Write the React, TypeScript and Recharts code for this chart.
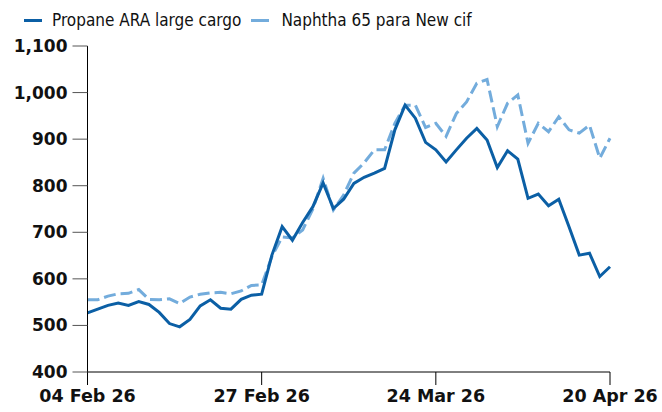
import React from 'react';
import { LineChart, Line, XAxis, YAxis, Legend } from 'recharts';

// business days, 04 Feb 26 .. 20 Apr 26
const dates = [
  '04 Feb 26', '05 Feb 26', '06 Feb 26', '09 Feb 26', '10 Feb 26', '11 Feb 26', '12 Feb 26', '13 Feb 26',
  '16 Feb 26', '17 Feb 26', '18 Feb 26', '19 Feb 26', '20 Feb 26', '23 Feb 26', '24 Feb 26', '25 Feb 26',
  '26 Feb 26', '27 Feb 26', '02 Mar 26', '03 Mar 26', '04 Mar 26', '05 Mar 26', '06 Mar 26', '09 Mar 26',
  '10 Mar 26', '11 Mar 26', '12 Mar 26', '13 Mar 26', '16 Mar 26', '17 Mar 26', '18 Mar 26', '19 Mar 26',
  '20 Mar 26', '23 Mar 26', '24 Mar 26', '25 Mar 26', '26 Mar 26', '27 Mar 26', '30 Mar 26', '31 Mar 26',
  '01 Apr 26', '02 Apr 26', '07 Apr 26', '08 Apr 26', '09 Apr 26', '10 Apr 26', '13 Apr 26', '14 Apr 26',
  '15 Apr 26', '16 Apr 26', '17 Apr 26', '20 Apr 26',
];

const propane = [
  527, 535, 543, 548, 543, 551, 545, 528, 504, 497, 513, 542, 555, 537, 535, 556,
  565, 567, 651, 712, 683, 721, 755, 806, 751, 771, 805, 818, 827, 837, 920, 973,
  945, 893, 877, 851, 877, 902, 923, 898, 839, 875, 857, 773, 782, 757, 771, 712,
  651, 655, 605, 626,
];

const naphtha = [
  555, 555, 563, 568, 569, 577, 556, 555, 557, 547, 561, 567, 570, 571, 568, 574,
  586, 587, 648, 690, 688, 705, 750, 816, 748, 780, 827, 849, 877, 877, 934, 973,
  973, 925, 934, 906, 955, 980, 1020, 1028, 927, 977, 995, 891, 934, 916, 948, 920,
  913, 930, 859, 902,
];

const xTicks = ['04 Feb 26', '27 Feb 26', '24 Mar 26', '20 Apr 26'];
const yTicks = [400, 500, 600, 700, 800, 900, 1000, 1100];

const DARK = '#0b5fa5';
const LIGHT = '#73acdc';
const FONT = '"DejaVu Sans Condensed", "DejaVu Sans", sans-serif';
const TICK_FONT = '"DejaVu Sans", sans-serif';

const data = dates.map((d, i) => ({ date: d, propane: propane[i], naphtha: naphtha[i] }));

const LegendContent = () => (
  <div style={{ display: 'flex', alignItems: 'center', fontFamily: FONT, fontSize: 17, color: '#111' }}>
    <span style={{ width: 18, height: 3, background: DARK, marginLeft: 24, marginRight: 10 }} />
    <span>Propane ARA large cargo</span>
    <span style={{ width: 18, height: 3, background: LIGHT, marginLeft: 10, marginRight: 12 }} />
    <span>Naphtha 65 para New cif</span>
  </div>
);

export default function App() {
  return (
    <div style={{ position: 'absolute', left: 0, top: 0 }}>
      <LineChart width={662} height={412} data={data} margin={{ top: 46, right: 52, bottom: 10, left: 7.5 }}>
        <Legend
          content={<LegendContent />}
          layout="horizontal"
          verticalAlign="middle"
          align="center"
          wrapperStyle={{ top: 10, left: 0, width: 662 }}
        />
        <XAxis
          dataKey="date"
          ticks={xTicks}
          interval={0}
          height={30}
          tickSize={13}
          tickMargin={5}
          axisLine={{ stroke: '#000' }}
          tickLine={{ stroke: '#000' }}
          tick={{ fill: '#111', fontSize: 17.5, fontWeight: 'bold', fontFamily: TICK_FONT }}
        />
        <YAxis
          domain={[400, 1100]}
          ticks={yTicks}
          width={80}
          tickSize={15}
          tickMargin={5}
          interval={0}
          axisLine={{ stroke: '#000' }}
          tickLine={{ stroke: '#555' }}
          tickFormatter={(v: number) => v.toLocaleString('en-US')}
          tick={{ fill: '#111', fontSize: 17, fontWeight: 'bold', fontFamily: TICK_FONT }}
        />
        <Line
          dataKey="naphtha"
          stroke={LIGHT}
          strokeWidth={3}
          strokeDasharray="12 5"
          dot={false}
          isAnimationActive={false}
        />
        <Line
          dataKey="propane"
          stroke={DARK}
          strokeWidth={3}
          dot={false}
          isAnimationActive={false}
        />
      </LineChart>
    </div>
  );
}
